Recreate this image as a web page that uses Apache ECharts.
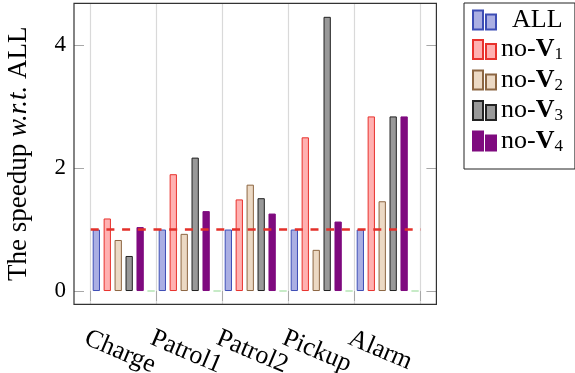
<!DOCTYPE html>
<html>
<head>
<meta charset="utf-8">
<script src="https://cdn.jsdelivr.net/npm/echarts@6/dist/echarts.min.js"></script>
<style>
html,body{margin:0;padding:0;background:#fff;}
#chart{width:575px;height:373px;}
</style>
</head>
<body>
<div id="chart"></div>
<script>
// ---- data ----
const categories = ['Charge', 'Patrol1', 'Patrol2', 'Pickup', 'Alarm'];
const seriesNames = ['ALL', 'no-V1', 'no-V2', 'no-V3', 'no-V4'];
const valuesALL  = [1.00, 1.00, 1.00, 1.00, 1.00];
const valuesNoV1 = [1.18, 1.90, 1.49, 2.50, 2.84];
const valuesNoV2 = [0.83, 0.93, 1.73, 0.67, 1.46];
const valuesNoV3 = [0.57, 2.17, 1.51, 4.46, 2.84];
const valuesNoV4 = [1.04, 1.30, 1.26, 1.13, 2.84];
const valuesExtra = [0, 0, 0, 0, 0];
const yTickValues = [0, 2, 4];
const baselineValue = 1;

// ---- styles ----
const FONT = 'Liberation Serif';
const fills   = ['#abafe3', '#ffb1b1', '#ecd9c4', '#999999', '#7f0a7f'];
const borders = ['#3d4db5', '#e8322d', '#8c6642', '#222222', '#7f0a7f'];
const valueLists = [valuesALL, valuesNoV1, valuesNoV2, valuesNoV3, valuesNoV4];

const series = seriesNames.map((name, i) => ({
  name: name,
  type: 'bar',
  xAxisIndex: 0,
  yAxisIndex: 0,
  data: valueLists[i],
  barWidth: 7.3,
  barGap: '50%',
  itemStyle: { color: fills[i], borderColor: borders[i], borderWidth: 1 },
  emphasis: { disabled: true },
  animation: false
}));
series.push({
  name: 'extra',
  type: 'bar',
  xAxisIndex: 0,
  yAxisIndex: 0,
  data: valuesExtra,
  barWidth: 7.3,
  barGap: '50%',
  itemStyle: { color: 'rgba(0,0,0,0)', borderColor: '#8fd88f', borderWidth: 1.2 },
  animation: false
});
series[0].markLine = {
  silent: true,
  symbol: 'none',
  label: { show: false },
  lineStyle: { color: '#e3302a', type: [8, 7.7], width: 2.6 },
  data: [{ yAxis: baselineValue }],
  animation: false
};

const chart = echarts.init(document.getElementById('chart'), null, { renderer: 'canvas' });
chart.setOption({
  animation: false,
  backgroundColor: '#fff',
  grid: { left: 90.7, right: 154.3, top: 3.3, bottom: 68.7, outerBoundsMode: 'none' },
  legend: {
    data: seriesNames,
    orient: 'vertical',
    left: 464,
    top: 3,
    padding: [4, 12, 14, 8],
    itemGap: 3.5,
    itemWidth: 23,
    itemHeight: 19,
    icon: 'path://M0,0h10v19h-10z M13,4h10v15h-10z',
    borderColor: '#222',
    borderWidth: 1,
    selectedMode: false,
    formatter: function (name) {
      const m = name.match(/^no-V(\d)$/);
      if (m) return '{t|no-}{b|V}{s|' + m[1] + '}';
      return '{a|' + name + '}';
    },
    textStyle: {
      fontFamily: FONT, fontSize: 26, color: '#000',
      rich: {
        a: { fontFamily: FONT, fontSize: 26, color: '#000', lineHeight: 28, padding: [0, 0, 0, 11] },
        t: { fontFamily: FONT, fontSize: 26, color: '#000', lineHeight: 28 },
        b: { fontFamily: FONT, fontSize: 26, color: '#000', lineHeight: 28, fontWeight: 'bold' },
        s: { fontFamily: FONT, fontSize: 17, color: '#000', lineHeight: 14, verticalAlign: 'bottom' }
      }
    }
  },
  xAxis: [
    {
      type: 'category',
      data: categories,
      position: 'bottom',
      boundaryGap: true,
      axisLine: { show: false },
      axisTick: { show: false },
      axisLabel: { show: false },
      splitLine: { show: false }
    },
    {
      type: 'category',
      data: categories.concat(['']),
      position: 'bottom',
      boundaryGap: false,
      axisLine: { show: false },
      axisTick: { show: true, inside: false, length: 10, interval: 0, lineStyle: { color: '#a8a8a8', width: 1 } },
      splitLine: { show: true, interval: 0, lineStyle: { color: '#d9d9d9', width: 1.2 } },
      axisLabel: {
        interval: 0, rotate: -23, align: 'left', verticalAlign: 'top', margin: 21,
        fontFamily: FONT, fontSize: 26, color: '#000'
      }
    }
  ],
  yAxis: [
    {
      type: 'value',
      position: 'left',
      offset: 16.7,
      min: -0.216,
      max: 4.68,
      axisLine: { show: false },
      axisTick: { show: true, inside: true, length: 10, customValues: yTickValues, lineStyle: { color: '#a8a8a8', width: 1 } },
      axisLabel: { customValues: yTickValues, margin: 8, fontFamily: FONT, fontSize: 23, color: '#000' },
      splitLine: { show: false },
      name: '{r|The speedup }{i|w.r.t.}{r| ALL}',
      nameLocation: 'middle',
      nameGap: 42,
      nameTextStyle: {
        fontFamily: FONT, fontSize: 27, color: '#000',
        rich: {
          r: { fontFamily: FONT, fontSize: 27, color: '#000' },
          i: { fontFamily: FONT, fontSize: 27, color: '#000', fontStyle: 'italic' }
        }
      }
    },
    {
      type: 'value',
      position: 'right',
      offset: 15.7,
      min: -0.216,
      max: 4.68,
      axisLine: { show: false },
      axisTick: { show: true, inside: true, length: 10, customValues: yTickValues, lineStyle: { color: '#a8a8a8', width: 1 } },
      axisLabel: { show: false },
      splitLine: { show: false }
    }
  ],
  graphic: [{
    type: 'rect',
    z: 100,
    silent: true,
    shape: { x: 74, y: 3.3, width: 362.4, height: 301 },
    style: { fill: 'none', stroke: '#333', lineWidth: 1.2 }
  }],
  series: series
});
</script>
</body>
</html>
